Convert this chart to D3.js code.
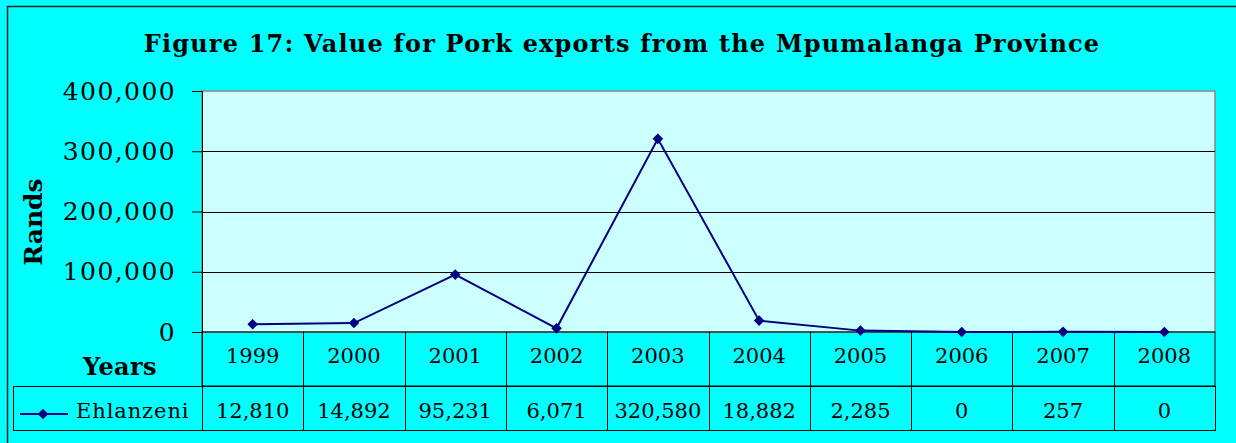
<!DOCTYPE html>
<html>
<head>
<meta charset="utf-8">
<script src="https://cdn.jsdelivr.net/npm/d3@7"></script>
<style>
  body { margin: 0; background: #00ffff; }
  svg text { font-family: "DejaVu Serif", serif; }
</style>
</head>
<body>
<div id="chart"></div>
<script>
// chart data
const years = ['1999', '2000', '2001', '2002', '2003', '2004', '2005', '2006', '2007', '2008'];
const ehlanzeni = [12810, 14892, 95231, 6071, 320580, 18882, 2285, 0, 257, 0];
const yTicks = [0, 100000, 200000, 300000, 400000];
const seriesName = 'Ehlanzeni';
const title = 'Figure 17: Value for Pork exports from the Mpumalanga Province';

const W = 1236, H = 443;
const plot = { left: 202, right: 1215, top: 91, bottom: 332 };
const row1 = 386, row2 = 430, legendLeft = 13;
const navy = '#000080';

const svg = d3.select('#chart')
  .append('svg')
  .attr('width', W)
  .attr('height', H);

// outer chart area
svg.append('rect')
  .attr('x', 7.5).attr('y', 6.5)
  .attr('width', W).attr('height', H)
  .attr('fill', '#00ffff')
  .attr('stroke', '#222').attr('stroke-width', 1.5);

svg.append('text')
  .attr('x', 622).attr('y', 52)
  .attr('text-anchor', 'middle')
  .attr('font-weight', 'bold')
  .attr('font-size', 24)
  .attr('letter-spacing', 1.2)
  .text(title);

// scales
const xScale = d3.scaleBand()
  .domain(years)
  .range([plot.left, plot.right]);

const yScale = d3.scaleLinear()
  .domain([0, 400000])
  .range([plot.bottom, plot.top]);

// plot background
svg.append('rect')
  .attr('x', plot.left).attr('y', plot.top)
  .attr('width', plot.right - plot.left)
  .attr('height', plot.bottom - plot.top)
  .attr('fill', '#ccffff')
  .attr('stroke', '#888').attr('stroke-width', 1.5);

// gridlines
svg.append('g')
  .selectAll('line')
  .data(yTicks.filter(d => d > 0 && d < 400000))
  .enter()
  .append('line')
    .attr('x1', plot.left).attr('x2', plot.right)
    .attr('y1', d => Math.round(yScale(d)) + 0.5)
    .attr('y2', d => Math.round(yScale(d)) + 0.5)
    .attr('stroke', '#000').attr('stroke-width', 1);

// y axis
const yAxis = svg.append('g')
  .attr('transform', 'translate(' + plot.left + ',0)')
  .call(d3.axisLeft(yScale)
    .tickValues(yTicks)
    .tickSize(10)
    .tickPadding(16)
    .tickFormat(d3.format(',')));
yAxis.select('.domain').attr('stroke', '#000');
yAxis.selectAll('.tick line').attr('stroke', '#000');
yAxis.selectAll('text')
  .attr('font-family', '"DejaVu Serif", serif')
  .attr('font-size', 25)
  .attr('letter-spacing', 1.4)
  .attr('fill', '#000');

svg.append('text')
  .attr('transform', 'translate(42,222) rotate(-90)')
  .attr('text-anchor', 'middle')
  .attr('font-weight', 'bold')
  .attr('font-size', 25)
  .text('Rands');

svg.append('text')
  .attr('x', 120).attr('y', 375)
  .attr('text-anchor', 'middle')
  .attr('font-weight', 'bold')
  .attr('font-size', 24)
  .attr('letter-spacing', 0.4)
  .text('Years');

// data table
const table = svg.append('g');
table.append('rect')
  .attr('x', plot.left).attr('y', plot.bottom)
  .attr('width', plot.right - plot.left).attr('height', row1 - plot.bottom)
  .attr('fill', 'none').attr('stroke', '#000');
table.append('rect')
  .attr('x', legendLeft + 0.5).attr('y', row1 + 0.5)
  .attr('width', plot.right - legendLeft).attr('height', row2 - row1)
  .attr('fill', 'none').attr('stroke', '#000');
table.selectAll('.col')
  .data(years)
  .enter()
  .append('line')
    .attr('class', 'col')
    .attr('x1', d => Math.round(xScale(d)) + 0.5)
    .attr('x2', d => Math.round(xScale(d)) + 0.5)
    .attr('y1', plot.bottom).attr('y2', row2)
    .attr('stroke', '#000');

table.selectAll('.yr')
  .data(years)
  .enter()
  .append('text')
    .attr('class', 'yr')
    .attr('x', d => xScale(d) + xScale.bandwidth() / 2)
    .attr('y', 363)
    .attr('text-anchor', 'middle')
    .attr('font-size', 21)
    .text(d => d);

table.selectAll('.val')
  .data(ehlanzeni)
  .enter()
  .append('text')
    .attr('class', 'val')
    .attr('x', (d, i) => xScale(years[i]) + xScale.bandwidth() / 2)
    .attr('y', 418)
    .attr('text-anchor', 'middle')
    .attr('font-size', 21)
    .text(d => d3.format(',')(d));

// legend key
const diamond = d3.symbol().type(d3.symbolSquare).size(56);
table.append('line')
  .attr('x1', 20).attr('x2', 68)
  .attr('y1', 414).attr('y2', 414)
  .attr('stroke', navy).attr('stroke-width', 2);
table.append('path')
  .attr('d', diamond)
  .attr('transform', 'translate(43,414) rotate(45)')
  .attr('fill', navy);
table.append('text')
  .attr('x', 76).attr('y', 418)
  .attr('font-size', 21)
  .attr('letter-spacing', 0.9)
  .text(seriesName);

// series line
const line = d3.line()
  .x((d, i) => xScale(years[i]) + xScale.bandwidth() / 2)
  .y(d => yScale(d));

svg.append('path')
  .datum(ehlanzeni)
  .attr('d', line)
  .attr('fill', 'none')
  .attr('stroke', navy)
  .attr('stroke-width', 2);

svg.selectAll('.pt')
  .data(ehlanzeni)
  .enter()
  .append('path')
    .attr('class', 'pt')
    .attr('d', diamond)
    .attr('transform', (d, i) => 'translate(' + (xScale(years[i]) + xScale.bandwidth() / 2) + ',' + yScale(d) + ') rotate(45)')
    .attr('fill', navy);
</script>
</body>
</html>
